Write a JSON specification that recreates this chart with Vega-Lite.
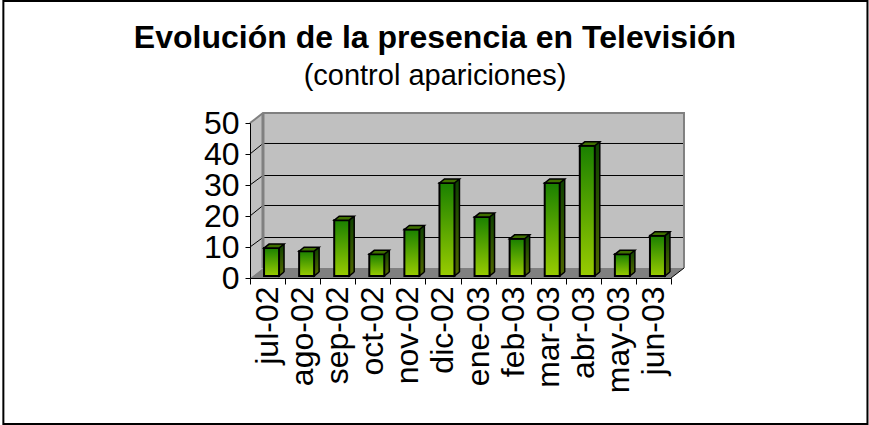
{
  "$schema": "https://vega.github.io/schema/vega-lite/v6.json",
  "autosize": "none",
  "width": 434,
  "height": 165,
  "padding": {"left": 250, "top": 113, "right": 185, "bottom": 147},
  "background": "white",
  "config": {"view": {"stroke": null}, "font": "Liberation Sans"},
  "title": {
    "text": "Evolución de la presencia en Televisión",
    "subtitle": "(control apariciones)",
    "font": "Liberation Sans",
    "fontSize": 32,
    "fontWeight": "bold",
    "color": "black",
    "subtitleFont": "Liberation Sans",
    "subtitleFontSize": 29,
    "subtitleColor": "black",
    "subtitlePadding": 7,
    "anchor": "middle",
    "dx": -32,
    "offset": -92
  },
  "datasets": {
    "meses": [
      {"mes": "jul-02", "apariciones": 9},
      {"mes": "ago-02", "apariciones": 8},
      {"mes": "sep-02", "apariciones": 18},
      {"mes": "oct-02", "apariciones": 7},
      {"mes": "nov-02", "apariciones": 15},
      {"mes": "dic-02", "apariciones": 30},
      {"mes": "ene-03", "apariciones": 19},
      {"mes": "feb-03", "apariciones": 12},
      {"mes": "mar-03", "apariciones": 30},
      {"mes": "abr-03", "apariciones": 42},
      {"mes": "may-03", "apariciones": 7},
      {"mes": "jun-03", "apariciones": 13}
    ],
    "marco": [{"a": -7.03, "b": 17.6, "c": -47.1, "d": 89.35}],
    "fondo": [{"a": 0.37, "b": 12.37, "c": 3.2, "d": 53.2}],
    "lateral": [{"a": 0, "c": 0, "d": 50}, {"a": 0.37, "c": 3.2, "d": 53.2}],
    "suelo": [{"a": 0, "c": 0, "d": 0}, {"a": 0.37, "c": 0, "d": 3.2}, {"a": 12, "c": 0, "d": 3.2}, {"a": 12.37, "c": 3.2, "d": 3.2}],
    "rejilla": [
      {"n": 10, "a": 0, "c": 10}, {"n": 10, "a": 0.37, "c": 13.06}, {"n": 10, "a": 12.37, "c": 13.06},
      {"n": 20, "a": 0, "c": 20}, {"n": 20, "a": 0.37, "c": 23.39}, {"n": 20, "a": 12.37, "c": 23.39},
      {"n": 30, "a": 0, "c": 30}, {"n": 30, "a": 0.37, "c": 33.06}, {"n": 30, "a": 12.37, "c": 33.06},
      {"n": 40, "a": 0, "c": 40}, {"n": 40, "a": 0.37, "c": 43.39}, {"n": 40, "a": 12.37, "c": 43.39}
    ],
    "borde": [{"a": 0, "c": 50}, {"a": 0.37, "c": 53.2}, {"a": 12.37, "c": 53.2}, {"a": 12.37, "c": 3.2}],
    "pilar": [{"a": 0.37, "c": 53.2}, {"a": 0.37, "c": 3.2}],
    "esquina": [{"a": 12, "c": 0}, {"a": 12.37, "c": 3.2}]
  },
  "layer": [
    {
      "encoding": {
        "x": {"field": "a", "type": "quantitative", "scale": {"domain": [0, 12], "range": [0, 421], "nice": false, "zero": false}, "axis": null},
        "y": {"field": "c", "type": "quantitative", "scale": {"domain": [0, 50], "range": [165, 10], "nice": false}, "axis": null}
      },
      "layer": [
        {"data": {"name": "marco"}, "mark": {"type": "rect", "fill": "white", "stroke": "black", "strokeWidth": 2, "clip": false},
         "encoding": {"x2": {"field": "b"}, "y2": {"field": "d"}}},
        {"data": {"name": "fondo"}, "mark": {"type": "rect", "fill": "#c0c0c0"},
         "encoding": {"x2": {"field": "b"}, "y2": {"field": "d"}}},
        {"data": {"name": "lateral"}, "mark": {"type": "area", "fill": "#c0c0c0", "opacity": 1},
         "encoding": {"y2": {"field": "d"}}},
        {"data": {"name": "suelo"}, "mark": {"type": "area", "fill": "#808080", "opacity": 1},
         "encoding": {"y2": {"field": "d"}}},
        {"data": {"name": "rejilla"}, "mark": {"type": "line", "stroke": "black", "strokeWidth": 1},
         "encoding": {"detail": {"field": "n"}}},
        {"data": {"name": "borde"}, "mark": {"type": "line", "stroke": "#808080", "strokeWidth": 2}},
        {"data": {"name": "pilar"}, "mark": {"type": "line", "stroke": "#808080", "strokeWidth": 3}},
        {"data": {"name": "esquina"}, "mark": {"type": "line", "stroke": "black", "strokeWidth": 1}}
      ]
    },
    {
      "data": {"name": "meses"},
      "mark": {"type": "bar", "width": 5, "xOffset": 14, "yOffset": -6, "y2Offset": -6,
               "fill": {"gradient": "linear", "x1": 0, "y1": 0, "x2": 0, "y2": 1, "stops": [{"offset": 0, "color": "#0d4000"}, {"offset": 1, "color": "#4d6600"}]}},
      "encoding": {
        "x": {"field": "mes", "type": "nominal", "sort": null, "scale": {"range": [0, 421], "paddingInner": 0, "paddingOuter": 0}, "axis": null},
        "y": {"field": "apariciones", "type": "quantitative", "scale": {"domain": [0, 50], "range": [165, 10], "nice": false}, "axis": null},
        "y2": {"datum": 0}
      }
    },
    {
      "data": {"name": "meses"},
      "mark": {"type": "point", "shape": "M5,-4 L0,0 L0,-4", "size": 4, "filled": true, "opacity": 1, "fill": "#4d6600", "stroke": "black", "strokeWidth": 1.5, "xOffset": 11.5, "yOffset": -2},
      "encoding": {
        "x": {"field": "mes", "type": "nominal", "sort": null, "scale": {"range": [0, 421], "paddingInner": 0, "paddingOuter": 0}, "axis": null},
        "y": {"datum": 0, "type": "quantitative", "scale": {"domain": [0, 50], "range": [165, 10], "nice": false}, "axis": null}
      }
    },
    {
      "data": {"name": "meses"},
      "mark": {"type": "rule", "stroke": "black", "strokeWidth": 1.5, "xOffset": 16.5, "yOffset": -6, "y2Offset": -6},
      "encoding": {
        "x": {"field": "mes", "type": "nominal", "sort": null, "scale": {"range": [0, 421], "paddingInner": 0, "paddingOuter": 0}, "axis": null},
        "y": {"field": "apariciones", "type": "quantitative", "scale": {"domain": [0, 50], "range": [165, 10], "nice": false}, "axis": null},
        "y2": {"datum": 0}
      }
    },
    {
      "data": {"name": "meses"},
      "mark": {"type": "bar", "width": 15, "xOffset": 4, "yOffset": -2, "y2Offset": -2, "stroke": "black", "strokeWidth": 2,
               "fill": {"gradient": "linear", "x1": 0, "y1": 0, "x2": 0, "y2": 1, "stops": [{"offset": 0, "color": "#1a8000"}, {"offset": 1, "color": "#99cc00"}]}},
      "encoding": {
        "x": {"field": "mes", "type": "nominal", "sort": null,
              "scale": {"range": [0, 421], "paddingInner": 0, "paddingOuter": 0},
              "axis": {"title": null, "tickBand": "extent", "labelAngle": 270, "labelAlign": "right", "labelBaseline": "middle",
                       "labelFontSize": 32, "labelColor": "black", "labelFont": "Liberation Sans", "labelPadding": 2,
                       "tickColor": "black", "domainColor": "black", "tickSize": 6, "labelOverlap": false, "zindex": 1}},
        "y": {"field": "apariciones", "type": "quantitative",
              "scale": {"domain": [0, 50], "range": [165, 10], "nice": false},
              "axis": {"title": null, "values": [0, 10, 20, 30, 40, 50], "grid": false, "labelFontSize": 32, "labelColor": "black",
                       "labelFont": "Liberation Sans", "tickColor": "black", "domainColor": "black", "tickSize": 5, "labelPadding": 6, "labelOverlap": false, "labelFlush": false, "zindex": 1}},
        "y2": {"datum": 0}
      }
    },
    {
      "data": {"name": "meses"},
      "mark": {"type": "point", "shape": "M0,0 L15,0 L20,-4 L5,-4 Z", "size": 4, "filled": true, "opacity": 1, "fill": "#3f7000", "stroke": "black", "strokeWidth": 1.5, "xOffset": -3.5, "yOffset": -2},
      "encoding": {
        "x": {"field": "mes", "type": "nominal", "sort": null, "scale": {"range": [0, 421], "paddingInner": 0, "paddingOuter": 0}, "axis": null},
        "y": {"field": "apariciones", "type": "quantitative", "scale": {"domain": [0, 50], "range": [165, 10], "nice": false}, "axis": null}
      }
    }
  ],
  "resolve": {"scale": {"x": "independent", "y": "independent"}}
}
